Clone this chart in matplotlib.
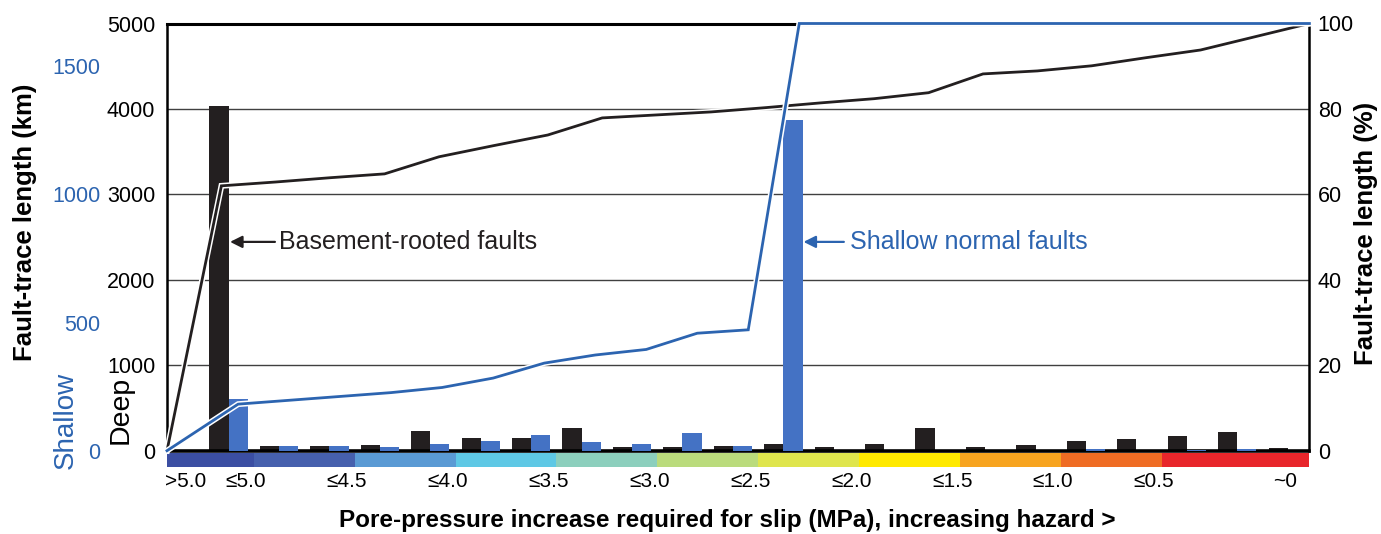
import numpy as np
import matplotlib
matplotlib.use("Agg")
import matplotlib.pyplot as plt
from matplotlib.patches import Rectangle
import matplotlib.patheffects as pe

plt.rcParams['font.family'] = ['Liberation Sans', 'DejaVu Sans']

# ---------------- data ----------------
bins = np.arange(22)
deep_km = [4030, 55, 55, 67, 230, 152, 152, 270, 47, 47, 59, 82,
           47, 82, 270, 40, 70, 117, 133, 176, 215, 35]
shallow_km = [203, 17, 18, 13, 25, 39, 61, 35, 26, 68, 18, 1290,
              0, 0, 0, 0, 0, 6, 0, 3, 8, 0]
deep_cum_pct = [0, 62.0, 62.9, 63.9, 64.8, 68.8, 71.4, 73.9, 77.9, 78.6, 79.3,
                80.3, 81.4, 82.4, 83.8, 88.2, 88.9, 90.1, 92.0, 93.8, 96.9, 100]
shallow_cum_pct = [0, 10.9, 11.8, 12.7, 13.6, 14.8, 17.0, 20.5, 22.4, 23.7, 27.5,
                   28.3, 100, 100, 100, 100, 100, 100, 100, 100, 100, 100, 100]
xtick_labels = ['>5.0', '≤5.0', '≤4.5', '≤4.0', '≤3.5', '≤3.0', '≤2.5',
                '≤2.0', '≤1.5', '≤1.0', '≤0.5', '~0']
hazard_colors = ['#3b4ea2', '#4660ad', '#5a9ad4', '#5ec8e5', '#8ccfbd',
                 '#badb7c', '#dfe54d', '#ffe900', '#f7a41f', '#ef6c24', '#e8262b']

BLACK = '#231f20'
BLUE_BAR = '#4472c4'
BLUE = '#2c64b0'

# ---------------- figure ----------------
W, H = 1381, 534
fig = plt.figure(figsize=(W / 100, H / 100), dpi=100)
x0, x1 = 167, 1309.4
ytop, ybot = 23.5, 450.7
ax = fig.add_axes([x0 / W, (H - ybot) / H, (x1 - x0) / W, (ybot - ytop) / H])

xlo, xhi = -1.22, 21.43
ax.set_xlim(xlo, xhi)
ax.set_ylim(0, 5000)
ax.set_axisbelow(True)

bw = 0.38
ax.bar(bins - bw / 2, deep_km, width=bw, color=BLACK, zorder=2)

ax.set_yticks(np.arange(0, 5001, 1000))
ax.tick_params(axis='y', length=0, pad=8.5, labelsize=15.5, colors='black')
ax.yaxis.grid(True, color='#404040', lw=1.0)
ax.xaxis.grid(False)
for s in ['left', 'right']:
    ax.spines[s].set_linewidth(1.8)
ax.spines['top'].set_linewidth(2.2)
ax.spines['bottom'].set_linewidth(2.6)
for s in ax.spines.values():
    s.set_color('black')
    s.set_zorder(5)

# x ticks
seg_edges = [xlo] + [0.5 + 2 * k for k in range(10)] + [xhi]
tick_pos = [-0.86] + [e - 0.15 for e in seg_edges[1:-1]] + [20.95]
ax.set_xticks(tick_pos)
ax.set_xticklabels(xtick_labels)
ax.tick_params(axis='x', length=0, pad=15.5, labelsize=15)

# hazard colour strip
for i, c in enumerate(hazard_colors):
    ax.add_patch(Rectangle((seg_edges[i], -0.038), seg_edges[i + 1] - seg_edges[i], 0.032,
                           transform=ax.get_xaxis_transform(), clip_on=False,
                           facecolor=c, edgecolor='none', zorder=1))

# shallow axis
ax_sh = ax.twinx()
ax_sh.set_ylim(0, 5000 / 3)
ax_sh.bar(bins + bw / 2, shallow_km, width=bw, color=BLUE_BAR, zorder=2)
ax_sh.yaxis.tick_left()
ax_sh.set_yticks([0, 500, 1000, 1500])
ax_sh.set_yticks([500, 1500], minor=True)
ax_sh.tick_params(axis='y', which='major', length=0, pad=48, labelsize=15.5,
                  labelcolor=BLUE, left=True, right=False)
ax_sh.tick_params(axis='y', which='minor', length=7.5, width=1.0, color=BLUE,
                  left=True, right=False, direction='out')
for s in ax_sh.spines.values():
    s.set_visible(False)

# percent axis with cumulative lines
ax_p = ax.twinx()
ax_p.set_ylim(0, 100)
ax_p.set_yticks(np.arange(0, 101, 20))
ax_p.tick_params(axis='y', length=0, pad=6, labelsize=15.5)
for s in ax_p.spines.values():
    s.set_visible(False)

halo = [pe.Stroke(linewidth=4.2, foreground='white'), pe.Normal()]
deep_x = np.linspace(xlo, xhi, len(deep_cum_pct))
ax_p.plot(deep_x, deep_cum_pct, color=BLACK, lw=2.0, clip_on=False,
          path_effects=halo, zorder=4, solid_joinstyle='miter')
sh_x = np.concatenate([[xlo], np.linspace(bw / 2, xhi, len(shallow_cum_pct) - 1)])
ax_p.plot(sh_x, shallow_cum_pct, color=BLUE, lw=2.0, clip_on=False,
          path_effects=halo, zorder=4, solid_joinstyle='miter')

# annotations
ax.annotate('', xy=(0.03, 2444), xytext=(0.92, 2444),
            arrowprops=dict(arrowstyle='-|>', color=BLACK, lw=1.6, mutation_scale=18,
                            shrinkA=0, shrinkB=0), zorder=6)
ax.text(1.0, 2444, 'Basement-rooted faults', fontsize=18, color=BLACK,
        va='center', ha='left', zorder=6)
ax.annotate('', xy=(11.4, 2444), xytext=(12.2, 2444),
            arrowprops=dict(arrowstyle='-|>', color=BLUE, lw=1.6, mutation_scale=18,
                            shrinkA=0, shrinkB=0), zorder=6)
ax.text(12.33, 2444, 'Shallow normal faults', fontsize=18, color=BLUE,
        va='center', ha='left', zorder=6)

# axis titles
fig.text(25 / W, (H - 222) / H, 'Fault-trace length (km)', rotation=90,
         fontsize=18.5, fontweight='bold', ha='center', va='center')
fig.text(1366 / W, (H - 233) / H, 'Fault-trace length (%)', rotation=90,
         fontsize=18.5, fontweight='bold', ha='center', va='center')
fig.text(727 / W, (H - 520) / H,
         'Pore-pressure increase required for slip (MPa), increasing hazard >',
         fontsize=17.5, fontweight='bold', ha='center', va='center')
fig.text(121 / W, (H - 376) / H, 'Deep', rotation=90, fontsize=20.5,
         ha='center', va='top', color='black')
fig.text(66 / W, (H - 372) / H, 'Shallow', rotation=90, fontsize=20,
         ha='center', va='top', color=BLUE)

fig.savefig('out.png', dpi=100)
